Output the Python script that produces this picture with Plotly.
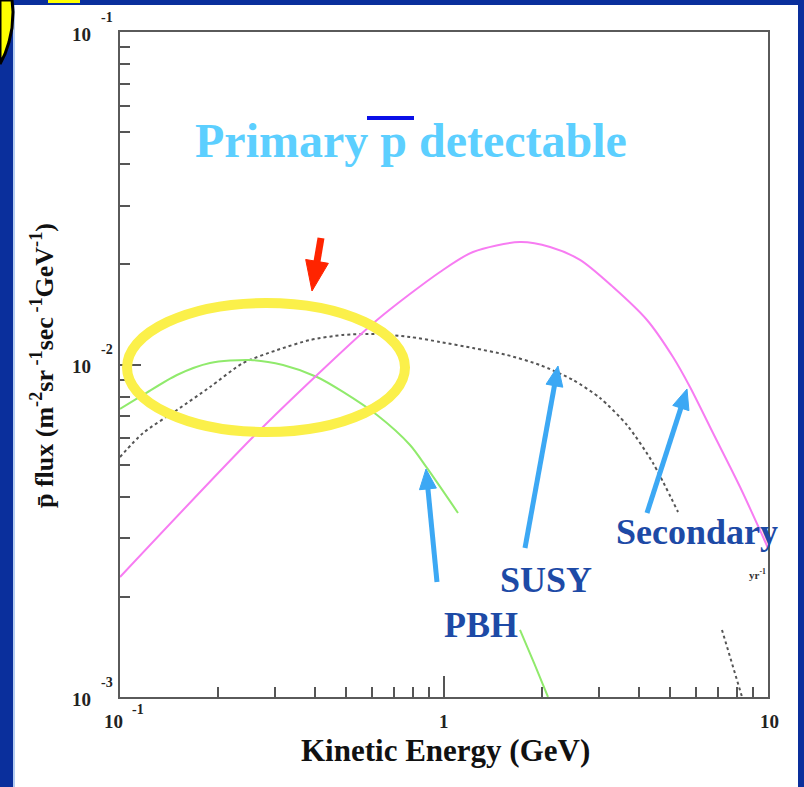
import math
import plotly.graph_objects as go

# ---------------- data ----------------
susy_energy = [0.1, 0.2573, 0.4055, 0.6213, 0.972, 1.229, 1.716, 2.125, 2.629,
               3.324, 4.232, 5.091, 5.744, 6.765, 8.199, 10.0]
susy_flux = [0.002296, 0.006053, 0.009298, 0.01361, 0.01898, 0.0218, 0.02336, 0.02257,
             0.02063, 0.0171, 0.01361, 0.01053, 0.008558, 0.006223, 0.004281, 0.002806]

pbh_energy = [0.1, 0.1178, 0.1499, 0.1896, 0.252, 0.3185, 0.4055, 0.488, 0.6213,
              0.7854, 0.886, 1.1046, None, 1.716, 1.9, 2.094]
pbh_flux = [0.007347, 0.008097, 0.009298, 0.0101, 0.01032, 0.009965, 0.009171, 0.008268,
            0.007047, 0.005727, 0.004885, 0.003576, None, 0.001591, 0.00126, 0.001]

sec_energy = [0.1, 0.1178, 0.1499, 0.1896, 0.2397, 0.3052, 0.3859, 0.488, 0.6213,
              0.7854, 0.972, 1.229, 1.5645, 1.978, 2.501, 3.03, 3.671, 4.417, 5.276,
              None, 7.211, 8.316]
sec_flux = [0.00527, 0.006223, 0.007296, 0.008558, 0.0101, 0.01105, 0.01185, 0.01227,
            0.01235, 0.0121, 0.01169, 0.01121, 0.01068, 0.009965, 0.008983, 0.007929,
            0.006577, 0.005053, 0.0036, None, 0.001591, 0.001]

x_tick_vals = [0.1, 1, 10]
x_tick_base = ["10", "1", "10"]
x_tick_exp = ["-1", "", ""]
y_tick_vals = [0.1, 0.01, 0.001]
y_tick_base = ["10", "10", "10"]
y_tick_exp = ["-1", "-2", "-3"]
x_minor = [m * d for d in (0.1, 1) for m in range(2, 10)]
y_minor = [m * d for d in (0.001, 0.01) for m in range(2, 10)]

curve_labels = ["PBH", "SUSY", "Secondary"]

# ---------------- layout helpers ----------------
W, H = 804, 787
L, R, T, B = 120, 768, 32, 697


def pxx(px):
    return (px - L) / (R - L)


def pxy(py):
    return (B - py) / (B - T)


SERIF = "Liberation Serif, Times New Roman, serif"

fig = go.Figure()
fig.add_trace(go.Scatter(x=sec_energy, y=sec_flux, mode="lines", name="Secondary",
                         line=dict(color="#555555", width=2, dash="dot", shape="spline", smoothing=0.7),
                         connectgaps=False, showlegend=False))
fig.add_trace(go.Scatter(x=pbh_energy, y=pbh_flux, mode="lines", name="PBH",
                         line=dict(color="#90ea6c", width=2, shape="spline", smoothing=0.8),
                         connectgaps=False, showlegend=False))
fig.add_trace(go.Scatter(x=susy_energy, y=susy_flux, mode="lines", name="SUSY",
                         line=dict(color="#f77cf2", width=2, shape="spline", smoothing=0.8),
                         showlegend=False))

axis_common = dict(type="log", showgrid=False, zeroline=False, showline=True,
                   linecolor="#5a5a5a", linewidth=2, mirror=True,
                   ticks="inside", ticklen=21, tickwidth=2, tickcolor="#555555",
                   tickmode="array", showticklabels=False)

fig.update_xaxes(range=[-1, 1], tickvals=x_tick_vals,
                 minor=dict(ticks="inside", ticklen=10, tickwidth=2, tickcolor="#555555",
                            tickmode="array", tickvals=x_minor),
                 **axis_common)
fig.update_yaxes(range=[-3, -1], tickvals=y_tick_vals,
                 minor=dict(ticks="inside", ticklen=10, tickwidth=2, tickcolor="#555555",
                            tickmode="array", tickvals=y_minor),
                 **axis_common)

ann = []
# tick labels
for v, b, e in zip(x_tick_vals, x_tick_base, x_tick_exp):
    shift = -7 if e else (1 if v == 10 else 0)
    ann.append(dict(x=math.log10(v), y=pxy(721), xref="x", yref="paper", text="<b>%s</b>" % b,
                    showarrow=False, xshift=shift, font=dict(family=SERIF, size=19, color="#222"),
                    xanchor="center", yanchor="middle"))
    if e:
        ann.append(dict(x=math.log10(v), y=pxy(709), xref="x", yref="paper", text="<b>%s</b>" % e,
                        showarrow=False, xshift=18, font=dict(family=SERIF, size=14, color="#222"),
                        xanchor="center", yanchor="middle"))
for v, b, e in zip(y_tick_vals, y_tick_base, y_tick_exp):
    ann.append(dict(x=pxx(81), y=math.log10(v), xref="paper", yref="y", text="<b>%s</b>" % b,
                    showarrow=False, yshift=-2, font=dict(family=SERIF, size=19, color="#222"),
                    xanchor="center", yanchor="middle"))
    ann.append(dict(x=pxx(107), y=math.log10(v), xref="paper", yref="y", text="<b>%s</b>" % e,
                    showarrow=False, yshift=15, font=dict(family=SERIF, size=14, color="#222"),
                    xanchor="center", yanchor="middle"))

# axis titles
ann.append(dict(x=pxx(445), y=pxy(750), xref="paper", yref="paper",
                text="<b>Kinetic Energy (GeV)</b>", showarrow=False,
                font=dict(family=SERIF, size=31, color="#111"), xanchor="center", yanchor="middle"))
ann.append(dict(x=pxx(42), y=pxy(366), xref="paper", yref="paper", textangle=-90,
                text="<b>p\u0304 flux (m<sup>-2</sup>sr<sup> -1</sup>sec<sup> -1</sup>GeV<sup>-1</sup>)</b>",
                showarrow=False, font=dict(family=SERIF, size=26, color="#111"),
                xanchor="center", yanchor="middle"))

# headline
ann.append(dict(x=pxx(411), y=pxy(140), xref="paper", yref="paper",
                text="<b>Primary p detectable</b>", showarrow=False,
                font=dict(family=SERIF, size=48, color="#5ccfff"), xanchor="center", yanchor="middle"))

# curve labels
label_pos = [(481, 625), (546, 580), (697, 532)]
for txt, (cx, cy) in zip(curve_labels, label_pos):
    ann.append(dict(x=pxx(cx), y=pxy(cy), xref="paper", yref="paper", text="<b>%s</b>" % txt,
                    showarrow=False, font=dict(family=SERIF, size=36, color="#1d4aa6"),
                    xanchor="center", yanchor="middle"))

# small "yr^-1" remnant
ann.append(dict(x=pxx(757), y=pxy(574), xref="paper", yref="paper",
                text="<b>yr<sup>-1</sup></b>", showarrow=False,
                font=dict(family=SERIF, size=11, color="#333"), xanchor="center", yanchor="middle"))

shapes = []


def path_px(pts, close=True):
    s = "M %f,%f " % (pxx(pts[0][0]), pxy(pts[0][1]))
    s += " ".join("L %f,%f" % (pxx(a), pxy(b)) for a, b in pts[1:])
    return s + (" Z" if close else "")


def arrow_shapes(tip, tail, color, width, head_len, head_w):
    tx, ty = tip
    sx, sy = tail
    dx, dy = tx - sx, ty - sy
    n = math.hypot(dx, dy)
    ux, uy = dx / n, dy / n
    bx, by = tx - ux * head_len, ty - uy * head_len
    px_, py_ = -uy, ux
    out = [dict(type="line", xref="paper", yref="paper", x0=pxx(sx), y0=pxy(sy),
                x1=pxx(bx + ux * 2), y1=pxy(by + uy * 2), line=dict(color=color, width=width),
                layer="above"),
           dict(type="path", xref="paper", yref="paper",
                path=path_px([(tx, ty), (bx + px_ * head_w / 2, by + py_ * head_w / 2),
                              (bx - px_ * head_w / 2, by - py_ * head_w / 2)]),
                fillcolor=color, line=dict(color=color, width=1), layer="above")]
    return out


# blue arrows (tip px, tail px)
blue_arrows = [((426, 469), (437, 582)), ((558, 366), (525, 548)), ((687, 389), (647, 513))]
for tip, tail in blue_arrows:
    shapes += arrow_shapes(tip, tail, "#3ca8f4", 5, 20, 17)
# red arrow
shapes += arrow_shapes((312, 291), (321, 238), "#ff2400", 7, 30, 23)

# yellow ellipse
shapes.append(dict(type="circle", xref="paper", yref="paper", x0=pxx(127), x1=pxx(405),
                   y0=pxy(432), y1=pxy(303), line=dict(color="#fbf04a", width=10), layer="above"))
# overline on p
shapes.append(dict(type="line", xref="paper", yref="paper", x0=pxx(367), x1=pxx(414),
                   y0=pxy(118), y1=pxy(118), line=dict(color="#0a10e8", width=4)))
# blue slide border
BLUE = "#0a2f9c"
shapes.append(dict(type="rect", xref="paper", yref="paper", x0=pxx(0), x1=pxx(13), y0=pxy(H), y1=pxy(0),
                   fillcolor=BLUE, line=dict(width=0), layer="above"))
shapes.append(dict(type="rect", xref="paper", yref="paper", x0=pxx(0), x1=pxx(W), y0=pxy(5), y1=pxy(0),
                   fillcolor=BLUE, line=dict(width=0), layer="above"))
shapes.append(dict(type="rect", xref="paper", yref="paper", x0=pxx(798), x1=pxx(W), y0=pxy(H), y1=pxy(0),
                   fillcolor=BLUE, line=dict(width=0), layer="above"))
shapes.append(dict(type="rect", xref="paper", yref="paper", x0=pxx(13), x1=pxx(15), y0=pxy(H), y1=pxy(5),
                   fillcolor="#b4cdf2", line=dict(width=0), layer="above"))

# yellow callout corner
shapes.append(dict(type="path", xref="paper", yref="paper",
                   path=path_px([(0, 0), (12, 0), (13, 12), (12, 28), (9, 42), (5, 54), (0, 64)]),
                   fillcolor="#ffff00", line=dict(color="#000000", width=3), layer="above"))
shapes.append(dict(type="rect", xref="paper", yref="paper", x0=pxx(48), x1=pxx(80), y0=pxy(3), y1=pxy(0),
                   fillcolor="#ffff00", line=dict(width=0), layer="above"))

fig.update_layout(width=W, height=H, margin=dict(l=L, r=W - R, t=T, b=H - B),
                  paper_bgcolor="white", plot_bgcolor="white",
                  annotations=ann, shapes=shapes, showlegend=False)

fig.write_html("out.html", config={"displayModeBar": False},
               post_script="document.body.style.margin='0';document.body.style.overflow='hidden';")
